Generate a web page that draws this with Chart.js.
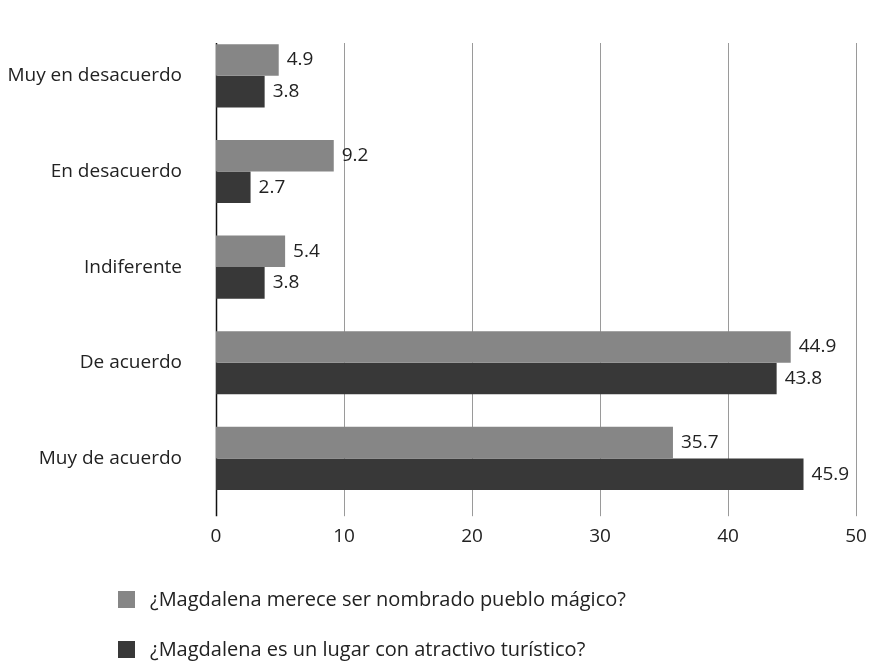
<!DOCTYPE html>
<html lang="es">
<head>
<meta charset="UTF-8">
<title>Magdalena</title>
<style>
  body { margin: 0; background: #fff; }
  #wrap { position: relative; width: 894px; height: 661px; }
  #leyenda { position: absolute; left: 118px; top: 585px; font: 20px "Open Sans", sans-serif; color: #222; }
  #leyenda div { height: 50px; display: flex; align-items: flex-start; }
  #leyenda span.caja { display: inline-block; width: 17px; height: 17px; margin-right: 15px; margin-top: 6px; }
</style>
</head>
<body>
<div id="wrap">
  <canvas id="grafica" width="894" height="661"></canvas>
  <div id="leyenda"></div>
</div>

<script src="https://cdn.jsdelivr.net/npm/chart.js"></script>
<script>
const categorias = ['Muy en desacuerdo', 'En desacuerdo', 'Indiferente', 'De acuerdo', 'Muy de acuerdo'];
const pueblomagico = [4.9, 9.2, 5.4, 44.9, 35.7];
const atractivo = [3.8, 2.7, 3.8, 43.8, 45.9];
const nombres = ['¿Magdalena merece ser nombrado pueblo mágico?', '¿Magdalena es un lugar con atractivo turístico?'];
const colores = ['#868686', '#383838'];
const ticksX = [0, 10, 20, 30, 40, 50];

const fuente = { family: '"Open Sans", sans-serif', size: 19 };

// lineas verticales y eje izquierdo, un poco mas largas que el area de barras
const rejilla = {
  id: 'rejilla',
  beforeDatasetsDraw(chart) {
    const { ctx, chartArea, scales } = chart;
    const arriba = chartArea.top + 15, abajo = chartArea.bottom + 10;
    ctx.save();
    ticksX.forEach(v => {
      const x = Math.round(scales.x.getPixelForValue(v)) + 0.5;
      ctx.strokeStyle = v === 0 ? '#111' : '#9a9a9a';
      ctx.lineWidth = v === 0 ? 1.5 : 1;
      ctx.beginPath();
      ctx.moveTo(x, arriba);
      ctx.lineTo(x, abajo);
      ctx.stroke();
    });
    ctx.restore();
  }
};

// valor al final de cada barra
const etiquetas = {
  id: 'etiquetas',
  afterDatasetsDraw(chart) {
    const { ctx } = chart;
    ctx.save();
    ctx.font = '19px "Open Sans", sans-serif';
    ctx.fillStyle = '#222';
    ctx.textBaseline = 'middle';
    chart.data.datasets.forEach((ds, i) => {
      chart.getDatasetMeta(i).data.forEach((bar, j) => {
        ctx.fillText(ds.data[j].toFixed(1), bar.x + 8, bar.y);
      });
    });
    ctx.restore();
  }
};

new Chart(document.getElementById('grafica'), {
  type: 'bar',
  data: {
    labels: categorias,
    datasets: [
      { label: nombres[0], data: pueblomagico, backgroundColor: colores[0] },
      { label: nombres[1], data: atractivo, backgroundColor: colores[1] }
    ]
  },
  options: {
    indexAxis: 'y',
    responsive: false,
    animation: false,
    layout: { padding: { top: 28, right: 38, bottom: 102, left: 0 } },
    datasets: { bar: { categoryPercentage: 0.66, barPercentage: 1.0 } },
    scales: {
      x: {
        min: 0, max: 50,
        grid: { display: false },
        border: { display: false },
        afterBuildTicks: s => { s.ticks = ticksX.map(v => ({ value: v })); },
        ticks: { font: fuente, color: '#222', padding: 11 }
      },
      y: {
        grid: { display: false },
        border: { display: false },
        afterFit: s => { s.width = 216; s.paddingTop = 0; s.paddingBottom = 0; },
        ticks: { font: fuente, color: '#222', padding: 26 }
      }
    },
    plugins: {
      legend: { display: false },
      tooltip: { enabled: false }
    }
  },
  plugins: [rejilla, etiquetas]
});

// leyenda en dos filas
const ley = document.getElementById('leyenda');
nombres.forEach((n, i) => {
  const fila = document.createElement('div');
  fila.innerHTML = '<span class="caja" style="background:' + colores[i] + '"></span>' + n;
  ley.appendChild(fila);
});
</script>
</body>
</html>
